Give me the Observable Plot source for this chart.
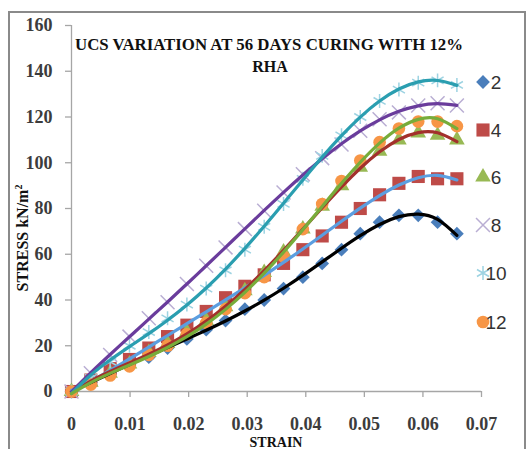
<!DOCTYPE html>
<html><head><meta charset="utf-8">
<script src="https://cdn.jsdelivr.net/npm/d3@7"></script>
<script src="https://cdn.jsdelivr.net/npm/@observablehq/plot@0.6"></script>
<style>
body{margin:0;background:#fff;}
#chart{width:529px;height:449px;}
svg g[aria-label="x-axis tick"], svg g[aria-label="y-axis tick"]{stroke:#a6a6a6;stroke-width:1.3px;}
svg g[aria-label="x-axis tick label"], svg g[aria-label="y-axis tick label"]{font-family:"Liberation Serif",serif;font-size:18px;font-weight:bold;fill:#3c3c3c;}
</style></head><body><div id="chart"></div>
<script>
// ---- data ----
const strain = [0,0.0033,0.0066,0.0099,0.0132,0.0164,0.0197,0.023,0.0263,0.0296,0.0329,0.0362,0.0395,0.0428,0.0461,0.0493,0.0526,0.0559,0.0592,0.0625,0.0658];
const seriesNames = ["2","4","6","8","10","12"];
const s2  = [0,4,8,12,15,19,23,27,31,36,40,45,50,56,62,69,74,77,77,74,69];
const s4  = [0,5,10,14,19,24,29,35,41,46,51,56,62,68,74,80,86,91,94,93,93];
const s6  = [0,4,8,12,17,21,26,31,37,44,52,61,71,81,90,98,105,110,113,112,110];
const s8  = [0,8,16,24,32,39,47,55,63,71,79,87,95,102,108,114,119,122,125,126,125];
const s10 = [0,6,13,20,26,32,38,45,53,62,72,82,93,103,112,120,127,132,135,136,134];
const s12 = [0,3,7,11,16,20,25,30,36,43,50,59,71,82,92,101,109,115,118,118,116];
const seriesValues = [s2,s4,s6,s8,s10,s12];
const xTicks = [0,0.01,0.02,0.03,0.04,0.05,0.06,0.07];
const xTickLabels = ["0","0.01","0.02","0.03","0.04","0.05","0.06","0.07"];
const yTicks = [0,20,40,60,80,100,120,140,160];

// ---- styles ----
const markerSymbol = ["diamond2","square","triangle","times","asterisk","circle"];
const markerR      = [6.2,7.4,5.8,6.4,6.6,6.3];
const markerFill   = ["#4A7EBB","#BE4B48","#98B954","none","none","#F79646"];
const markerStroke = ["none","none","none","#B9AED3","#9DD3E2","none"];
const lineColor    = ["#000000","#5B9EE0","#A3302C","#6A3C9C","#2A9EB0","#77AC3A"];

const fitOrder = 5;
function polyfit(xs, ys, deg){
  const n = deg+1;
  const A = Array.from({length:n}, () => Array(n+1).fill(0));
  for (let r=0;r<n;r++){
    for (let c=0;c<n;c++) A[r][c] = d3.sum(xs, x => x**(r+c));
    A[r][n] = d3.sum(xs, (x,k) => x**r * ys[k]);
  }
  for (let i=0;i<n;i++){
    let p=i;
    for (let r=i+1;r<n;r++) if (Math.abs(A[r][i])>Math.abs(A[p][i])) p=r;
    [A[i],A[p]]=[A[p],A[i]];
    for (let r=0;r<n;r++){
      if (r===i) continue;
      const f=A[r][i]/A[i][i];
      for (let c=i;c<=n;c++) A[r][c]-=f*A[i][c];
    }
  }
  return A.map((row,i)=>row[n]/row[i]);
}
const evalPoly = (c,x) => c.reduce((s,a,i)=>s+a*x**i,0);

const dotMarks = [], lineMarks = [];
seriesNames.forEach((name,i) => {
  const pts = strain.map((x,j) => ({series:name, strain:x, stress:seriesValues[i][j]}));
  dotMarks.push(Plot.dot(pts, {x:"strain", y:"stress", symbol:()=>markerSymbol[i], r:markerR[i],
    fill:markerFill[i], stroke:markerStroke[i], strokeWidth:1.5}));
  const c = polyfit(strain.map(x=>x*100), seriesValues[i], fitOrder);
  const fit = strain.map(x => ({strain:x, stress:evalPoly(c, x*100)}));
  lineMarks.push(Plot.line(fit, {x:"strain", y:"stress", stroke:lineColor[i], strokeWidth:3.2, curve:"natural"}));
});

const W=529, H=449;
const plot = Plot.plot({
  width:W, height:H,
  marginLeft:71, marginRight:48, marginTop:25, marginBottom:58,
  x:{domain:[0,0.07]},
  y:{domain:[0,160]},
  symbol:{type:"identity"},
  marks:[
    Plot.ruleY([0], {stroke:"#a6a6a6", strokeWidth:1.3}),
    Plot.ruleX([0], {stroke:"#a6a6a6", strokeWidth:1.3}),
    Plot.axisX(xTicks, {tickSize:6, tickPadding:20, tickFormat:(d,i)=>xTickLabels[i], label:null}),
    Plot.axisY(yTicks, {tickSize:6, tickPadding:13, label:null}),
    ...dotMarks,
    ...lineMarks
  ]
});
document.getElementById("chart").appendChild(plot);

const svg = d3.select(plot);
// outer border
svg.append("rect").attr("x",9).attr("y",12).attr("width",516).attr("height",445)
  .attr("fill","none").attr("stroke","#8a8a8a").attr("stroke-width",2);

// title
const serif = '"Liberation Serif", serif';
svg.append("text").attr("x",269).attr("y",50).attr("text-anchor","middle")
  .attr("font-family",serif).attr("font-weight","bold").attr("font-size",16).attr("fill","#111")
  .attr("textLength",388).attr("lengthAdjust","spacingAndGlyphs")
  .text("UCS VARIATION AT 56 DAYS CURING WITH 12%");
svg.append("text").attr("x",270).attr("y",72).attr("text-anchor","middle")
  .attr("font-family",serif).attr("font-weight","bold").attr("font-size",16).attr("fill","#111")
  .text("RHA");

// axis labels
const yl = svg.append("text").attr("transform","translate(28,238) rotate(-90)").attr("text-anchor","middle")
  .attr("font-family",serif).attr("font-weight","bold").attr("font-size",16).attr("fill","#111");
yl.append("tspan").text("STRESS kN/m");
yl.append("tspan").attr("font-size",10).attr("dy",-6).text("2");
svg.append("text").attr("x",276).attr("y",446.5).attr("text-anchor","middle")
  .attr("font-family",serif).attr("font-weight","bold").attr("font-size",14).attr("fill","#111")
  .text("STRAIN");

// legend
const legendY = [82,130,177,225,273,322];
const d3Sym = {diamond2:d3.symbolDiamond2, square:d3.symbolSquare, triangle:d3.symbolTriangle,
  times:d3.symbolTimes, asterisk:d3.symbolAsterisk, circle:d3.symbolCircle};
seriesNames.forEach((name,i) => {
  const g = svg.append("g").attr("transform",`translate(483,${legendY[i]})`);
  g.append("path").attr("d", d3.symbol(d3Sym[markerSymbol[i]], Math.PI*markerR[i]**2)())
    .attr("fill",markerFill[i]).attr("stroke",markerStroke[i]).attr("stroke-width",1.5);
  g.append("text").attr("x",13).attr("dy","0.35em").attr("font-family",'"Liberation Sans", sans-serif')
    .attr("font-size",19).attr("fill","#333").text(name);
});
</script></body></html>
